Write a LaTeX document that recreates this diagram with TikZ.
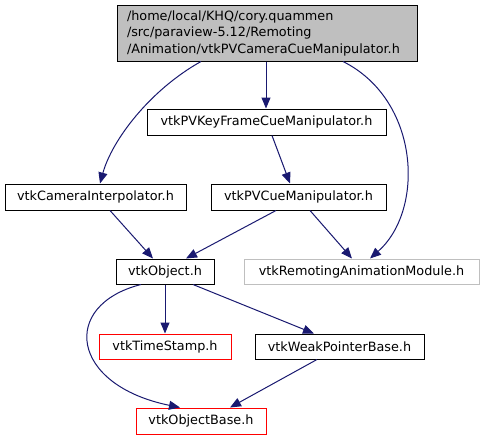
\documentclass[tikz,border=0pt]{standalone}
\usepackage{fontspec}
\setmainfont{DejaVu Sans}
\usetikzlibrary{arrows.meta}
\definecolor{edgec}{HTML}{191970}
\definecolor{topfill}{HTML}{BFBFBF}
\definecolor{greyb}{HTML}{BFBFBF}
\definecolor{redb}{HTML}{FF0000}
\tikzset{
  box/.style={draw=black, line width=1pt, inner sep=0pt, minimum height=26pt, font=\fontsize{12.8}{16.5}\selectfont},
  redbox/.style={box, draw=redb},
  greybox/.style={box, draw=greyb},
  dep/.style={draw=edgec, line width=1pt, -{Triangle[length=11pt,width=9pt]}}
}
\begin{document}
\begin{tikzpicture}[x=1pt,y=-1pt]
\useasboundingbox (0,0) rectangle (483,440);
\node[box, fill=topfill, minimum width=300pt, minimum height=56pt, align=left, text width=280pt] (top) at (267,33)
  {/home/local/KHQ/cory.quammen\\/src/paraview-5.12/Remoting\\/Animation/vtkPVCameraCueManipulator.h};
\node[box, minimum width=239pt] (kf) at (266.5,122) {vtkPVKeyFrameCueManipulator.h};
\node[box, minimum width=181pt] (cam) at (95.5,197) {vtkCameraInterpolator.h};
\node[box, minimum width=175pt] (pvc) at (298.5,197) {vtkPVCueManipulator.h};
\node[box, minimum width=98pt, minimum height=25pt] (obj) at (165,271.5) {vtkObject.h};
\node[greybox, minimum width=235pt, minimum height=25pt] (rem) at (361.5,271.5) {vtkRemotingAnimationModule.h};
\node[redbox, minimum width=132pt, minimum height=25pt] (ts) at (165,346.5) {vtkTimeStamp.h};
\node[box, minimum width=169pt, minimum height=25pt] (wpb) at (339.5,346.5) {vtkWeakPointerBase.h};
\node[redbox, minimum width=130pt] (ob) at (201,421) {vtkObjectBase.h};

\draw[dep] ([xshift=-66pt]top.south) .. controls (150,90) and (112,140) .. ([xshift=4.5pt]cam.north);
\draw[dep] ([xshift=-1pt]top.south) -- ([xshift=-1pt]top.south |- kf.north);
\draw[dep] ([xshift=76pt]top.south) .. controls (420,100) and (425,210) .. ([xshift=8.5pt]rem.north);
\draw[dep] ([xshift=5.5pt]kf.south) -- ([xshift=-8.5pt]pvc.north);
\draw[dep] ([xshift=14.5pt]cam.south) -- ([xshift=-12pt]obj.north);
\draw[dep] ([xshift=-22.5pt]pvc.south) -- ([xshift=21pt]obj.north);
\draw[dep] ([xshift=11.5pt]pvc.south) -- ([xshift=-9.5pt]rem.north);
\draw[dep] ([xshift=-24pt]obj.south) .. controls (60,305) and (70,385) .. ([xshift=-21pt]ob.north);
\draw[dep] (obj.south) -- (ts.north);
\draw[dep] ([xshift=28pt]obj.south) -- ([xshift=-25.5pt]wpb.north);
\draw[dep] ([xshift=-22.5pt]wpb.south) -- ([xshift=29pt]ob.north);
\end{tikzpicture}
\end{document}
